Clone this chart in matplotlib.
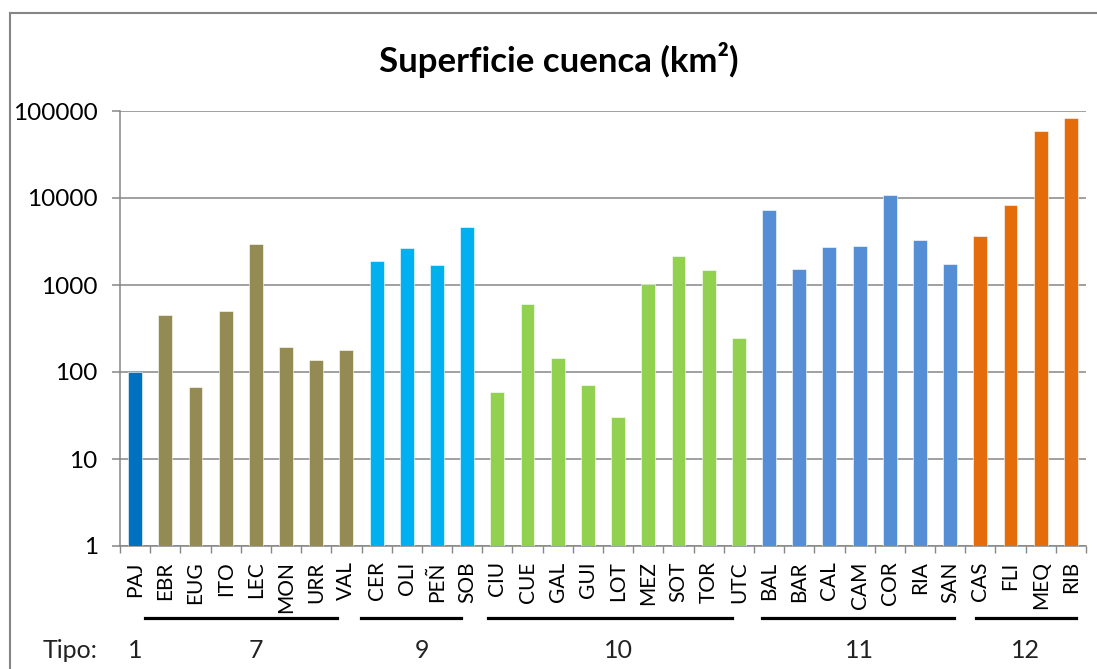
import matplotlib
matplotlib.use('Agg')
import matplotlib.pyplot as plt
from matplotlib.lines import Line2D
from matplotlib.ticker import FixedLocator, NullLocator, FuncFormatter

plt.rcParams['font.family'] = ['Lato', 'DejaVu Sans']

# data
codes = ['PAJ', 'EBR', 'EUG', 'ITO', 'LEC', 'MON', 'URR', 'VAL',
         'CER', 'OLI', 'PEÑ', 'SOB',
         'CIU', 'CUE', 'GAL', 'GUI', 'LOT', 'MEZ', 'SOT', 'TOR', 'UTC',
         'BAL', 'BAR', 'CAL', 'CAM', 'COR', 'RIA', 'SAN',
         'CAS', 'FLI', 'MEQ', 'RIB']
area = [100, 455, 68, 506, 2990, 196, 139, 177,
        1905, 2670, 1713, 4600,
        59, 607, 144, 70, 30, 1040, 2133, 1470, 248,
        7310, 1521, 2710, 2806, 10720, 3325, 1738,
        3700, 8400, 58750, 83000]
tipo = [1, 7, 7, 7, 7, 7, 7, 7,
        9, 9, 9, 9,
        10, 10, 10, 10, 10, 10, 10, 10, 10,
        11, 11, 11, 11, 11, 11, 11,
        12, 12, 12, 12]
tipo_names = [1, 7, 9, 10, 11, 12]
tipo_colors = {1: '#0070C0', 7: '#948A54', 9: '#00B0F0',
               10: '#92D050', 11: '#558ED5', 12: '#E46C0A'}
# hand drawn underline spans (category units) for each group
spans = {7: (0.33, 6.68), 9: (7.47, 10.79), 10: (11.68, 19.78),
         11: (20.77, 27.12), 12: (27.86, 31.17)}

W, H = 1097, 669
fig = plt.figure(figsize=(W / 100, H / 100), dpi=100)
ax = fig.add_axes([120 / W, 1 - 546 / H, 966 / W, 435 / H])

x = list(range(len(codes)))
cols = [tipo_colors[t] for t in tipo]
ax.bar(x, area, width=0.46, color=cols, edgecolor='white', linewidth=0.4, zorder=3)

ax.set_yscale('log')
ax.set_ylim(1, 100000)
ax.set_xlim(-0.5, len(codes) - 0.5)
ax.yaxis.set_major_locator(FixedLocator([1, 10, 100, 1000, 10000, 100000]))
ax.yaxis.set_minor_locator(NullLocator())
ax.yaxis.set_major_formatter(FuncFormatter(lambda v, p: '%d' % round(v)))
ax.grid(axis='y', color='#868686', linewidth=1.1, zorder=0)

gray = '#868686'
for s in ['top', 'right']:
    ax.spines[s].set_visible(False)
for s in ['left', 'bottom']:
    ax.spines[s].set_color(gray)
    ax.spines[s].set_linewidth(1.1)

ax.set_xticks(x)
ax.set_xticklabels(codes, rotation=90, fontsize=15, va='top', ha='center')
ax.xaxis.set_minor_locator(FixedLocator([i - 0.5 for i in range(len(codes) + 1)]))
ax.tick_params(axis='x', which='major', length=0, pad=11)
ax.tick_params(axis='x', which='minor', length=5, color=gray, width=1)
ax.tick_params(axis='y', length=6, color=gray, width=1.1, labelsize=17.5, pad=10)

# tipo labels and underlines
line_y = 1 - 617.7 / H
lab_y = 1 - 651 / H
for t in tipo_names:
    idx = [i for i, tt in enumerate(tipo) if tt == t]
    cx = (idx[0] + idx[-1]) / 2
    fig.text(ax.transData.transform((cx, 1))[0] / W, lab_y, str(t),
             fontsize=18, ha='center', va='center', color='#222222')
    if t in spans:
        x0, x1 = spans[t]
        fig.add_artist(Line2D([ax.transData.transform((x0, 1))[0] / W,
                               ax.transData.transform((x1, 1))[0] / W],
                              [line_y, line_y], color='black', linewidth=2.3))
fig.text(70 / W, lab_y, 'Tipo:', fontsize=18, ha='center', va='center', color='#222222')

fig.text(559 / W, 1 - 60 / H, 'Superficie cuenca (km²)', fontsize=25,
         fontweight='bold', ha='center', va='center')

# chart frame
fig.add_artist(Line2D([10 / W, 10 / W], [0, 1 - 13 / H], color=gray, linewidth=1.5))
fig.add_artist(Line2D([10 / W, 1], [1 - 13 / H, 1 - 13 / H], color=gray, linewidth=1.5))

fig.savefig('out.png', dpi=100)
